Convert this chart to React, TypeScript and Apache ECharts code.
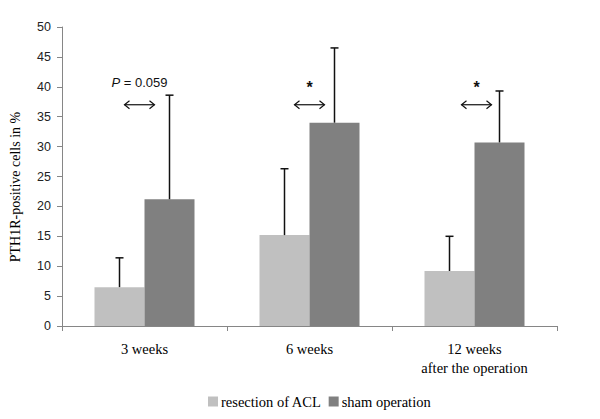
import React, { useEffect, useRef } from "react";
import * as echarts from "echarts";

const categories = ["3 weeks", "6 weeks", "12 weeks\nafter the operation"];
const seriesNames = ["resection of ACL", "sham operation"];
const resectionMean = [6.5, 15.2, 9.2];
const resectionSD = [4.9, 11.1, 5.8];
const shamMean = [21.2, 34.0, 30.7];
const shamSD = [17.4, 12.5, 8.6];
const annotationLabels = ["{i|P} = 0.059", "*", "*"];
const annotationLevel = [37, 37, 37];
const yTicks = { min: 0, max: 50, interval: 5 };

const BAR_W = 50;
const annotationShift = [-5, 0, 2];
const LIGHT = "#c0c0c0";
const DARK = "#808080";
const AXIS = "#868686";
const SERIF = "'Liberation Serif', 'Times New Roman', serif";
const SANS = "'Liberation Sans', Arial, sans-serif";

export default function App() {
  const ref = useRef<HTMLDivElement>(null);

  useEffect(() => {
    if (!ref.current) return;
    const chart = echarts.init(ref.current, undefined, { renderer: "svg" });

    const errData = (means: number[], sds: number[]) =>
      means.map((m, i) => [i, m, m + sds[i]]);

    const errorSeries = (means: number[], sds: number[], side: number) => ({
      type: "custom",
      z: 5,
      silent: true,
      data: errData(means, sds),
      renderItem: (params: any, api: any) => {
        const idx = api.value(0);
        const base = api.coord([idx, api.value(1)]);
        const top = api.coord([idx, api.value(2)]);
        const x = base[0] + side * (BAR_W / 2);
        return {
          type: "group",
          children: [
            {
              type: "line",
              shape: { x1: x, y1: base[1], x2: x, y2: top[1] },
              style: { stroke: "#111", lineWidth: 1.5 },
            },
            {
              type: "line",
              shape: { x1: x - 4, y1: top[1], x2: x + 4, y2: top[1] },
              style: { stroke: "#111", lineWidth: 1.5 },
            },
          ],
        };
      },
    });

    const option: any = {
      animation: false,
      grid: { left: 62, right: 43, top: 27, bottom: 93, containLabel: false },
      legend: {
        data: seriesNames,
        left: 203,
        top: 389,
        icon: "rect",
        itemWidth: 10,
        itemHeight: 10,
        itemGap: 7,
        textStyle: { fontFamily: SERIF, fontSize: 14.5, color: "#000", padding: [0, 0, 0, -2] },
      },
      xAxis: {
        type: "category",
        data: categories,
        axisLine: { lineStyle: { color: AXIS, width: 1 } },
        axisTick: { show: true, length: 5, lineStyle: { color: AXIS } },
        axisLabel: {
          fontFamily: SERIF,
          fontSize: 14.5,
          color: "#000",
          lineHeight: 19,
          margin: 13,
          interval: 0,
        },
      },
      yAxis: {
        type: "value",
        min: yTicks.min,
        max: yTicks.max,
        interval: yTicks.interval,
        axisLine: { show: true, lineStyle: { color: AXIS, width: 1 } },
        axisTick: { show: true, length: 5, lineStyle: { color: AXIS } },
        splitLine: { show: false },
        axisLabel: { fontFamily: SANS, fontSize: 12.5, color: "#222", margin: 11 },
      },
      graphic: [
        {
          type: "text",
          x: 15,
          y: 187,
          rotation: Math.PI / 2,
          style: {
            text: "PTH1R-positive cells in %",
            fontFamily: SERIF,
            fontSize: 14,
            fill: "#000",
            align: "center",
            verticalAlign: "middle",
          },
        },
      ],
      series: [
        {
          name: seriesNames[0],
          type: "bar",
          data: resectionMean,
          barWidth: BAR_W,
          barGap: "0%",
          itemStyle: { color: LIGHT },
        },
        {
          name: seriesNames[1],
          type: "bar",
          data: shamMean,
          barWidth: BAR_W,
          barGap: "0%",
          itemStyle: { color: DARK },
        },
        errorSeries(resectionMean, resectionSD, -1),
        errorSeries(shamMean, shamSD, 1),
        {
          type: "custom",
          z: 6,
          silent: true,
          data: annotationLevel.map((v, i) => [i, v]),
          renderItem: (params: any, api: any) => {
            const idx = api.value(0);
            const p = api.coord([idx, api.value(1)]);
            const x = p[0] + annotationShift[idx];
            const y = p[1];
            const hw = 15;
            const label = annotationLabels[idx];
            const isStar = label === "*";
            const stroke = { stroke: "#111", lineWidth: 1.2, fill: null };
            return {
              type: "group",
              children: [
                { type: "line", shape: { x1: x - hw, y1: y, x2: x + hw, y2: y }, style: stroke },
                {
                  type: "polyline",
                  shape: { points: [[x - hw + 5, y - 4], [x - hw, y], [x - hw + 5, y + 4]] },
                  style: stroke,
                },
                {
                  type: "polyline",
                  shape: { points: [[x + hw - 5, y - 4], [x + hw, y], [x + hw - 5, y + 4]] },
                  style: stroke,
                },
                {
                  type: "text",
                  x: x,
                  y: isStar ? y - 17 : y - 22,
                  style: {
                    text: label,
                    fontFamily: SANS,
                    fontSize: isStar ? 16 : 13,
                    fontWeight: isStar ? "bold" : "normal",
                    fill: "#111",
                    align: "center",
                    verticalAlign: "middle",
                    rich: { i: { fontStyle: "italic", fontFamily: SANS, fontSize: 13, fill: "#111" } },
                  },
                },
              ],
            };
          },
        },
      ],
    };

    chart.setOption(option);
    return () => chart.dispose();
  }, []);

  return (
    <div
      ref={ref}
      style={{ position: "fixed", left: 0, top: 0, width: 600, height: 419, background: "#fff" }}
    />
  );
}
